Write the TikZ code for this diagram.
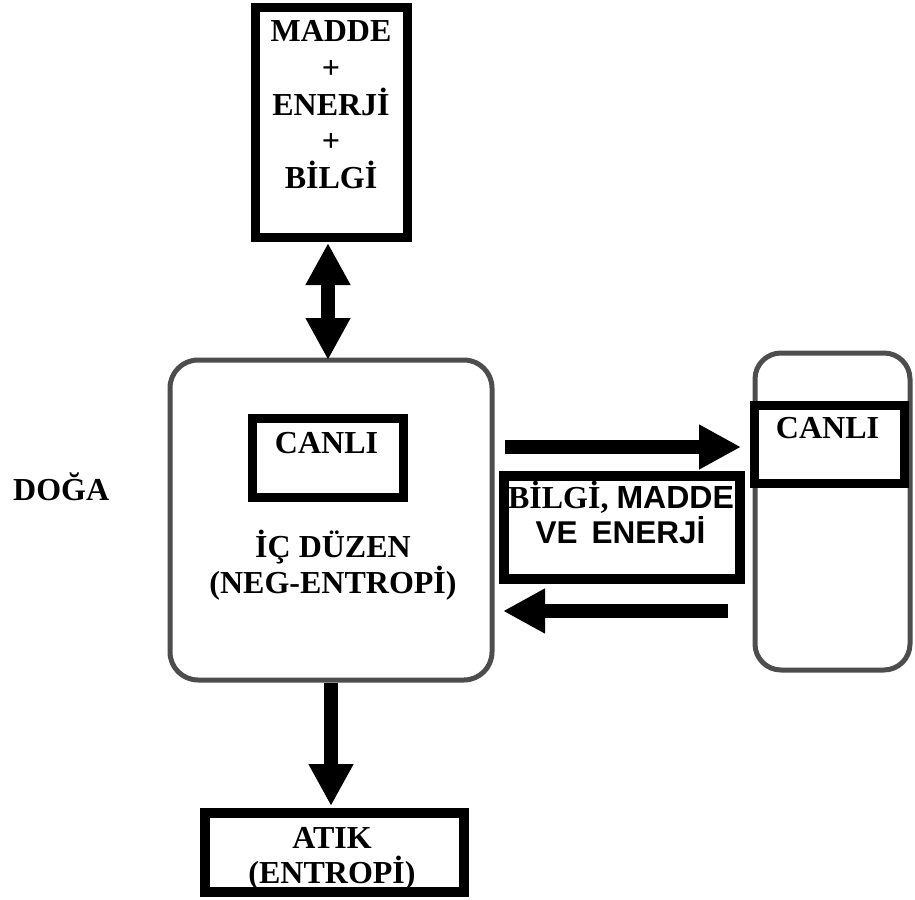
\documentclass[tikz,border=0pt]{standalone}
\usepackage{fontspec}
\setmainfont{Liberation Serif}
\newfontfamily\arialf{Liberation Sans}
\usetikzlibrary{arrows.meta}
\definecolor{framegray}{HTML}{4D4D4D}
\begin{document}
\begin{tikzpicture}[x=1pt,y=-1pt,
  blackbox/.style={draw=black, line width=9pt, inner sep=0pt, fill=white},
  graybox/.style={draw=framegray, line width=5pt, rounded corners=28pt, inner sep=0pt, fill=white},
  serif/.style={font=\bfseries\fontsize{32}{36}\selectfont, inner sep=0pt, anchor=base},
  sans/.style={font=\arialf\bfseries\fontsize{31.5}{36}\selectfont, inner sep=0pt, anchor=base},
  tipbig/.tip={Triangle[length=42pt,width=42pt]},
  fat/.style={draw=black, line width=14pt, -tipbig}
]
\useasboundingbox (0,0) rectangle (915,899);

% boxes
\node[blackbox, minimum width=152pt, minimum height=229pt] (src) at (331,122.5) {};
\node[graybox, minimum width=322pt, minimum height=320pt] (main) at (331,520) {};
\node[blackbox, minimum width=151pt, minimum height=79pt] (incanli) at (328,458) {};
\node[graybox, rounded corners=26pt, minimum width=155pt, minimum height=317pt] (other) at (832.5,511.5) {};
\node[blackbox, minimum width=150pt, minimum height=78pt] (outcanli) at (829.5,444.5) {};
\node[blackbox, line width=10pt, minimum width=236pt, minimum height=103pt] (flow) at (622,527.5) {};
\node[blackbox, line width=10pt, minimum width=259pt, minimum height=79pt] (atik) at (334.5,852.5) {};

% connectors
\coordinate (dx) at (328,0);
\coordinate (ry) at (0,447);
\coordinate (ly) at (0,611);
\draw[fat, tipbig-tipbig, shorten <=1.5pt, shorten >=-2.5pt] (dx |- src.south) -- (dx |- main.north);
\draw[fat, shorten <=10.5pt, shorten >=9pt] (main.east |- ry) -- (outcanli.west |- ry);
\draw[fat, shorten <=24.5pt, shorten >=8.5pt] (other.west |- ly) -- (main.east |- ly);
\draw[fat, shorten >=2pt] (main.south) -- (main.south |- atik.north);

% texts
\node[serif] (t1) at (331,42) {MADDE};
\node[serif] (t2) at (331,78.5) {+};
\node[serif] (t3) at (331,115) {ENERJİ};
\node[serif] (t4) at (331,151.5) {+};
\node[serif] (t5) at (331,188) {BİLGİ};
\node[serif] (t6) at (326.5,453) {CANLI};
\node[serif] (t7) at (333,557) {İÇ DÜZEN};
\node[serif] (t8) at (333,593) {(NEG-ENTROPİ)};
\node[serif, anchor=base west] (doga) at (13,500) {DOĞA};
\node[serif] (t9) at (827.5,438) {CANLI};
\node[serif] (t10) at (621,508) {BİLGİ, {\arialf MADDE}};
\node[sans] (t11) at (620.5,543) {VE\hspace{14pt}ENERJİ};
\node[serif] (t12) at (332,848) {ATIK};
\node[serif] (t13) at (332,883) {(ENTROPİ)};
\end{tikzpicture}
\end{document}
